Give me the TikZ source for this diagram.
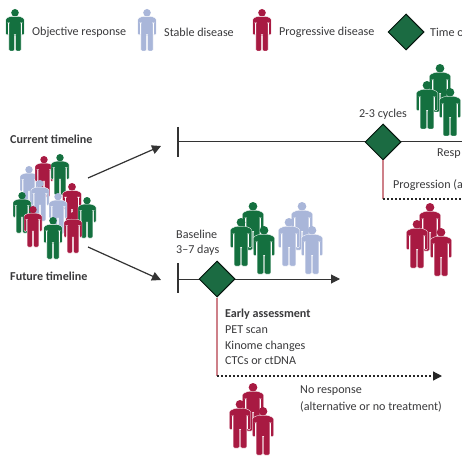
\documentclass[tikz,border=0pt]{standalone}
\usepackage{fontspec}
\setmainfont{Carlito}
\usetikzlibrary{arrows.meta,shapes.geometric}
\definecolor{pgreen}{HTML}{14703F}
\definecolor{pblue}{HTML}{A9B6D9}
\definecolor{pred}{HTML}{A81A42}
\definecolor{dgreen}{HTML}{1B6B42}
\definecolor{txt}{HTML}{3A3A3C}
\definecolor{rline}{HTML}{CE8089}
\newcommand{\persona}[4]{%
  \begin{scope}[shift={(#1,#2)},scale=#3/41]
    \fill[#4] (0,3.7) circle (3.7);
    \draw[fill=#4,draw=white,line width=0.35pt,rounded corners=1.2pt]
      (-4.5,7.2) -- (-9,9.2) -- (-9,25.5) -- (-6.5,25.5) -- (-6.5,13.5) -- (-5.9,13.5) -- (-5.9,41) -- (-0.4,41) -- (-0.4,25)
      -- (0.4,25) -- (0.4,41) -- (5.9,41) -- (5.9,13.5) -- (6.5,13.5) -- (6.5,25.5) -- (9,25.5) -- (9,9.2) -- (4.5,7.2) -- cycle;
  \end{scope}}
\newcommand{\trio}[7]{% mid x,top; left x,top; right x,top; colour
  \persona{#1}{#2}{48}{#7}\persona{#3}{#4}{48}{#7}\persona{#5}{#6}{48}{#7}}
\tikzset{
  lbl/.style={anchor=west,inner sep=0pt,font=\fontsize{12.1}{14}\selectfont,text=txt},
  lblb/.style={lbl,font=\fontsize{12.1}{14}\selectfont\bfseries},
  lblc/.style={lbl,anchor=center},
  gem/.style={diamond,aspect=1,fill=dgreen,draw=black!80!dgreen,line width=1pt,minimum size=36pt,inner sep=0pt},
  tl/.style={draw=black!80,line width=1pt},
  tick/.style={draw=black!80,line width=1.2pt},
  rl/.style={draw=rline,line width=1.2pt},
  dots/.style={draw=black!85,line width=1.2pt,dash pattern=on 2pt off 2pt},
  tip/.style={-{Triangle[length=9pt,width=9pt]}},
}
\begin{document}
\begin{tikzpicture}[x=1pt,y=-1pt]
\useasboundingbox (0,0) rectangle (462,462);
\clip (0,0) rectangle (462,462);
\fill[white] (0,0) rectangle (462,462);
% legend
\persona{15}{9}{42}{pgreen}
\persona{147}{9}{42}{pblue}
\persona{262}{9}{42}{pred}
\node[lbl] (lg1) at (32,32) {Objective response};
\node[lbl] (lg2) at (164,32) {Stable disease};
\node[lbl] (lg3) at (279,32) {Progressive disease};
\node[gem] (lg4) at (406,32) {};
\node[lbl] (lg5) at (430,32) {Time o};
% crowd
\node[lblb] (cur) at (10,139) {Current timeline};
\node[lblb] (fut) at (10,276) {Future timeline};
\persona{29}{166}{41}{pblue}
\persona{44}{156}{41}{pred}
\persona{60}{154}{41}{pgreen}
\persona{40}{180}{41}{pblue}
\persona{72}{183}{43}{pred}
\persona{58}{193}{41}{pblue}
\persona{87}{197}{41}{pgreen}
\persona{22}{192}{41}{pgreen}
\persona{33}{206}{41}{pred}
\persona{53}{217}{42}{pgreen}
\persona{73}{212}{41}{pred}
% arrows from crowd
\coordinate (cs1) at (88,178);
\coordinate (ce1) at (161,146);
\coordinate (cs2) at (88,247);
\coordinate (ce2) at (161,280);
\draw[tl,line width=1.2pt,tip] (cs1) -- (ce1);
\draw[tl,line width=1.2pt,tip] (cs2) -- (ce2);
% current timeline
\coordinate (t1a) at (178,127);
\coordinate (t1b) at (178,157);
\coordinate (t1s) at (178,142);
\coordinate (t1e) at (462,142);
\coordinate (p1c) at (383,199);
\coordinate (p1e) at (462,199);
\draw[tick] (t1a) -- (t1b);
\draw[tl] (t1s) -- (t1e);
\node[gem] (d1) at (383,142) {};
\draw[rl] (d1.south) -- (p1c);
\draw[dots] (p1c) -- (p1e);
\node[lblc] (cyc) at (383,114) {2-3 cycles};
\node[lbl] (resp) at (437,154) {Resp};
\node[lbl] (prog) at (393,185) {Progression (a};
\trio{440}{64}{427}{81}{450}{88}{pgreen}
\trio{430}{203}{417}{220}{441}{228}{pred}
% future timeline
\coordinate (t2a) at (178,263);
\coordinate (t2b) at (178,293);
\coordinate (t2s) at (178,279);
\coordinate (t2e) at (340,279);
\coordinate (p2c) at (217,376);
\coordinate (p2e) at (442,376);
\draw[tick] (t2a) -- (t2b);
\draw[tl,tip] (t2s) -- (t2e);
\node[gem] (d2) at (217,279) {};
\draw[rl] (d2.south) -- (p2c);
\draw[dots,tip] (p2c) -- (p2e);
\node[lbl] (bl1) at (176,234) {Baseline};
\node[lbl] (bl2) at (176,250) {3–7 days};
\trio{253}{202}{241}{218}{264}{226}{pgreen}
\trio{302}{202}{289}{218}{312}{226}{pblue}
\node[lblb] (ea) at (225,314) {Early assessment};
\node[lbl] (ea1) at (225,330) {PET scan};
\node[lbl] (ea2) at (225,346) {Kinome changes};
\node[lbl] (ea3) at (225,361) {CTCs or ctDNA};
\trio{253}{383}{240}{400}{263}{407}{pred}
\node[lbl] (nr1) at (300,391) {No response};
\node[lbl] (nr2) at (300,407) {(alternative or no treatment)};
\end{tikzpicture}
\end{document}
